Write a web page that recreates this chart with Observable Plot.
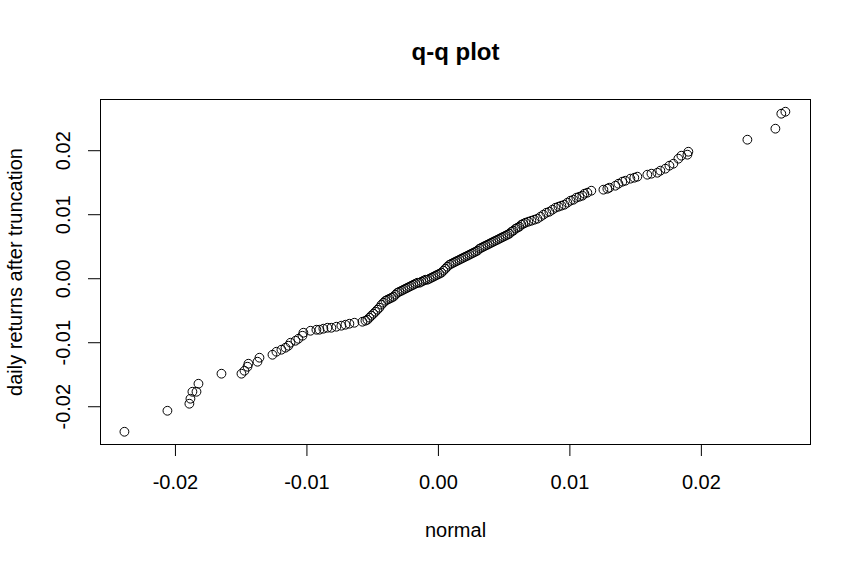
<!DOCTYPE html>
<html>
<head>
<meta charset="utf-8">
<script src="https://cdn.jsdelivr.net/npm/d3@7"></script>
<script src="https://cdn.jsdelivr.net/npm/@observablehq/plot@0.6"></script>
<style>
  html, body { margin: 0; padding: 0; background: white; }
</style>
</head>
<body>
<div id="chart"></div>
<script>
// theoretical normal quantiles (x) and sorted daily returns after truncation (y)
const normalQ = [
  -0.02388, -0.02061, -0.01894, -0.01886, -0.01871, -0.01840, -0.01825, -0.01650,
  -0.01498, -0.01475, -0.01452, -0.01445, -0.01376, -0.01361, -0.01262, -0.01232,
  -0.01194, -0.01163, -0.01141, -0.01125, -0.01087, -0.01065, -0.01034, -0.01027,
  -0.00973, -0.00928, -0.00905, -0.00875, -0.00844, -0.00814, -0.00776, -0.00738,
  -0.00707, -0.00677, -0.00639, -0.00578, -0.00555, -0.00540, -0.00525, -0.00510,
  -0.00494, -0.00479, -0.00464, -0.00449, -0.00433, -0.00418, -0.00403, -0.00388,
  -0.00373, -0.00357, -0.00342, -0.00327, -0.00312, -0.00297, -0.00281, -0.00266,
  -0.00251, -0.00236, -0.00221, -0.00205, -0.00190, -0.00175, -0.00160, -0.00144,
  -0.00129, -0.00114, -0.00099, -0.00084, -0.00068, -0.00053, -0.00038, -0.00023,
  -0.00008, 0.00008, 0.00023, 0.00038, 0.00053, 0.00068, 0.00084, 0.00099,
  0.00114, 0.00129, 0.00144, 0.00160, 0.00175, 0.00190, 0.00205, 0.00221,
  0.00236, 0.00251, 0.00266, 0.00281, 0.00297, 0.00312, 0.00327, 0.00342,
  0.00357, 0.00373, 0.00388, 0.00403, 0.00418, 0.00433, 0.00449, 0.00464,
  0.00479, 0.00494, 0.00510, 0.00525, 0.00540, 0.00555, 0.00570, 0.00586,
  0.00601, 0.00616, 0.00631, 0.00646, 0.00662, 0.00684, 0.00707, 0.00730,
  0.00753, 0.00776, 0.00798, 0.00821, 0.00844, 0.00867, 0.00890, 0.00913,
  0.00935, 0.00958, 0.00981, 0.01004, 0.01027, 0.01049, 0.01072, 0.01095,
  0.01110, 0.01133, 0.01163, 0.01255, 0.01285, 0.01300, 0.01346, 0.01369,
  0.01399, 0.01422, 0.01460, 0.01490, 0.01513, 0.01589, 0.01620, 0.01665,
  0.01688, 0.01726, 0.01757, 0.01787, 0.01825, 0.01848, 0.01894, 0.01901,
  0.02350, 0.02563, 0.02608, 0.02639
];
const returnsQ = [
  -0.02391, -0.02063, -0.01953, -0.01875, -0.01766, -0.01766, -0.01641, -0.01484,
  -0.01484, -0.01438, -0.01375, -0.01328, -0.01297, -0.01234, -0.01188, -0.01141,
  -0.01109, -0.01078, -0.01047, -0.01000, -0.00969, -0.00938, -0.00891, -0.00844,
  -0.00813, -0.00797, -0.00797, -0.00781, -0.00766, -0.00766, -0.00750, -0.00734,
  -0.00719, -0.00703, -0.00688, -0.00672, -0.00656, -0.00641, -0.00609, -0.00578,
  -0.00547, -0.00516, -0.00484, -0.00453, -0.00406, -0.00375, -0.00344, -0.00328,
  -0.00313, -0.00297, -0.00281, -0.00250, -0.00219, -0.00203, -0.00188, -0.00172,
  -0.00156, -0.00141, -0.00125, -0.00109, -0.00094, -0.00078, -0.00063, -0.00063,
  -0.00047, -0.00031, -0.00016, -0.00016, 0.00000, 0.00016, 0.00031, 0.00047,
  0.00063, 0.00078, 0.00094, 0.00125, 0.00156, 0.00188, 0.00219, 0.00234,
  0.00250, 0.00266, 0.00281, 0.00297, 0.00313, 0.00328, 0.00344, 0.00359,
  0.00375, 0.00391, 0.00406, 0.00422, 0.00438, 0.00469, 0.00484, 0.00500,
  0.00516, 0.00531, 0.00547, 0.00563, 0.00578, 0.00594, 0.00609, 0.00625,
  0.00641, 0.00656, 0.00672, 0.00688, 0.00703, 0.00734, 0.00750, 0.00781,
  0.00797, 0.00813, 0.00844, 0.00859, 0.00875, 0.00891, 0.00906, 0.00922,
  0.00938, 0.00969, 0.01000, 0.01031, 0.01047, 0.01078, 0.01109, 0.01125,
  0.01141, 0.01156, 0.01188, 0.01219, 0.01234, 0.01266, 0.01281, 0.01297,
  0.01328, 0.01344, 0.01375, 0.01391, 0.01406, 0.01422, 0.01453, 0.01484,
  0.01516, 0.01531, 0.01563, 0.01578, 0.01594, 0.01625, 0.01641, 0.01656,
  0.01688, 0.01719, 0.01766, 0.01797, 0.01875, 0.01922, 0.01938, 0.01984,
  0.02172, 0.02344, 0.02578, 0.02609
];

const xTicks = [-0.02, -0.01, 0, 0.01, 0.02];
const xTickLabels = ["-0.02", "-0.01", "0.00", "0.01", "0.02"];
const yTicks = [-0.02, -0.01, 0, 0.01, 0.02];
const yTickLabels = ["-0.02", "-0.01", "0.00", "0.01", "0.02"];

const titleText = "q-q plot";
const xLabel = "normal";
const yLabel = "daily returns after truncation";

const points = normalQ.map((x, i) => ({x, y: returnsQ[i]}));

const chart = Plot.plot({
  width: 861,
  height: 567,
  marginLeft: 100,
  marginRight: 51,
  marginTop: 99,
  marginBottom: 123,
  style: {
    fontFamily: "Arial, 'Liberation Sans', sans-serif",
    fontSize: "20px",
    background: "white",
    color: "black"
  },
  x: {domain: [-0.0257, 0.0283]},
  y: {domain: [-0.0259, 0.0280]},
  marks: [
    Plot.frame({stroke: "black", strokeWidth: 1}),
    Plot.axisX({
      ticks: xTicks,
      tickSize: 12,
      tickPadding: 18,
      tickFormat: (d) => xTickLabels[xTicks.indexOf(d)],
      fontSize: 20,
      label: null,
      stroke: "black"
    }),
    Plot.axisY({
      ticks: yTicks,
      tickSize: 12,
      tickFormat: () => "",
      label: null,
      stroke: "black"
    }),
    Plot.text(yTicks, {
      y: (d) => d,
      text: (d, i) => yTickLabels[i],
      frameAnchor: "left",
      dx: -37,
      rotate: -90,
      textAnchor: "middle",
      lineAnchor: "middle",
      fontSize: 20,
      fill: "black"
    }),
    Plot.dot(points, {
      x: "x",
      y: "y",
      r: 4.4,
      stroke: "black",
      strokeWidth: 1,
      fill: "none"
    }),
    Plot.text([titleText], {
      text: (d) => d,
      frameAnchor: "top",
      dy: -47,
      lineAnchor: "middle",
      textAnchor: "middle",
      fontSize: 24,
      fontWeight: "bold",
      fill: "black"
    }),
    Plot.text([xLabel], {
      text: (d) => d,
      frameAnchor: "bottom",
      dy: 86,
      lineAnchor: "middle",
      textAnchor: "middle",
      fontSize: 20,
      fill: "black"
    }),
    Plot.text([yLabel], {
      text: (d) => d,
      frameAnchor: "left",
      dx: -85,
      rotate: -90,
      lineAnchor: "middle",
      textAnchor: "middle",
      fontSize: 20,
      fill: "black"
    })
  ]
});

document.getElementById("chart").appendChild(chart);
</script>
</body>
</html>
